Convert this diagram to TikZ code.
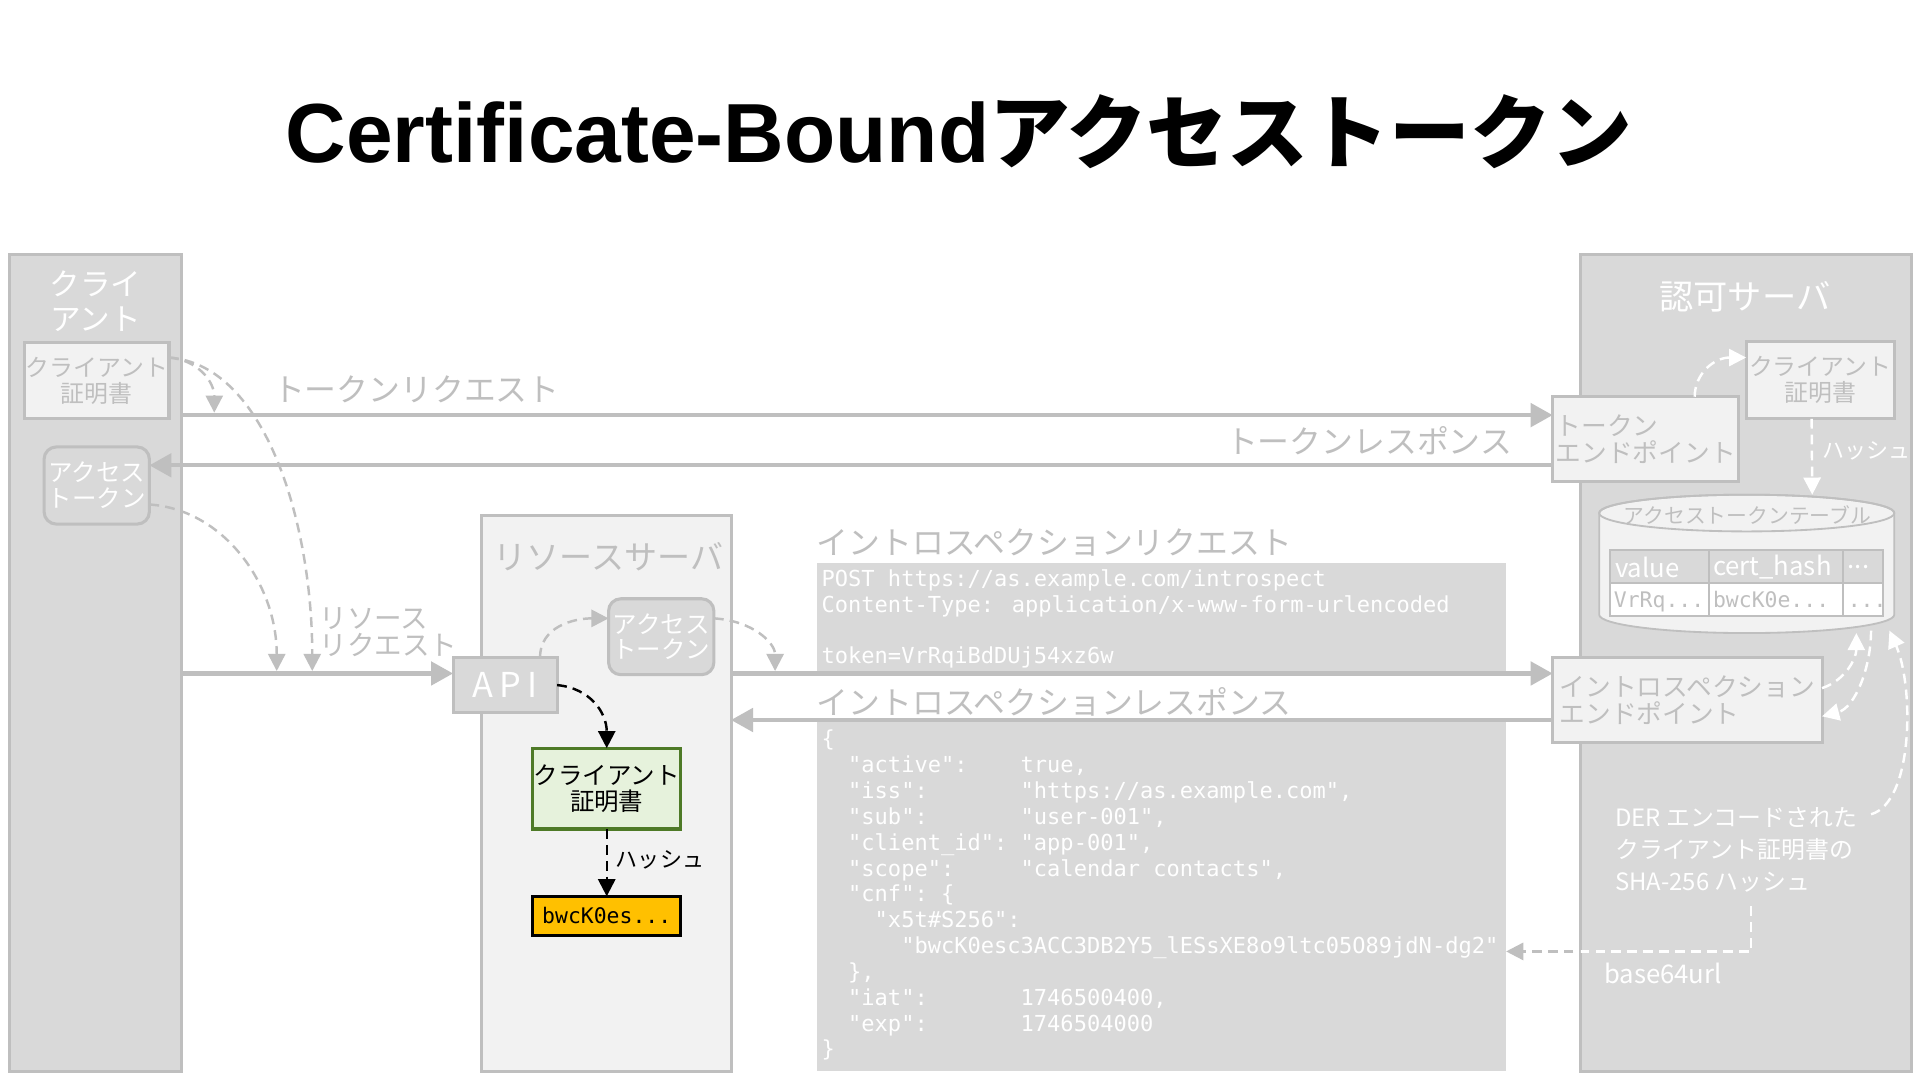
\documentclass[tikz,border=0pt]{standalone}
\usepackage{fontspec}
\setmainfont{Noto Sans CJK JP}
\newfontfamily\codefont{DejaVu Sans Mono}
\newfontfamily\titlelatin{Liberation Sans}
\usetikzlibrary{arrows.meta,calc}
\definecolor{gfill}{HTML}{D9D9D9}
\definecolor{lfill}{HTML}{F2F2F2}
\definecolor{gline}{HTML}{BFBFBF}
\definecolor{grfill}{HTML}{E6F2DC}
\definecolor{grline}{HTML}{4E7A27}
\definecolor{orfill}{HTML}{FFC000}
\newcommand\fsz[2]{\fontsize{#1}{#2}\selectfont}
\newlength\csw
\setlength\csw{10.837pt}
\newcommand\colsp[1]{\hspace*{#1\csw}}
\begin{document}
\begin{tikzpicture}[x=1pt,y=-1pt,
  box/.style={draw=gline, line width=2.5pt, inner sep=0pt, outer sep=0pt},
  txt/.style={inner sep=0pt, outer sep=0pt},
  arr/.style={draw=gline, line width=3.5pt, -{Triangle[length=18pt,width=19pt]}},
  dgray/.style={draw=gline, line width=2pt, dash pattern=on 8pt off 5pt, -{Triangle[length=14pt,width=14pt]}},
  dwhite/.style={draw=white, line width=2pt, dash pattern=on 8pt off 5pt, -{Triangle[length=14pt,width=14pt]}},
  dblack/.style={draw=black, line width=2pt, dash pattern=on 8pt off 5pt, -{Triangle[length=14pt,width=14pt]}},
  code/.style={txt, anchor=base west, text=white, font=\codefont\fsz{18}{21}},
]
\path[use as bounding box, fill=white] (0,0) rectangle (1568,882);

% title
\node[txt, anchor=base] (title) at (783,133) {{\titlelatin\bfseries\fsz{68.5}{72}Certificate-Bound}{\bfseries\fsz{66}{72}アクセストークン}};

% big boxes
\node[box, fill=gfill, minimum width=140pt, minimum height=667pt] (client) at (78,541.5) {};
\node[box, fill=lfill, minimum width=204pt, minimum height=454pt] (RS) at (495,648) {};
\node[box, fill=gfill, minimum width=270pt, minimum height=667pt] (AS) at (1426,541.5) {};

% client content
\node[txt, text=white, align=center, font=\fsz{25}{28}] (clientT) at (78,246) {クライ\\アント};
\node[box, fill=lfill, minimum width=118pt, minimum height=62pt, text=gline, align=center, font=\fsz{19.5}{21}] (ccert) at (79,311) {クライアント\\証明書};
\node[box, fill=gfill, rounded corners=10pt, minimum width=86pt, minimum height=63pt, text=white, align=center, font=\fsz{20}{21}] (ctok) at (79,396.5) {アクセス\\トークン};

% resource server content
\node[txt, text=gline, font=\fsz{27}{28}] (RST) at (497,455) {リソースサーバ};
\node[box, fill=gfill, rounded corners=10pt, minimum width=86pt, minimum height=62pt, text=white, align=center, font=\fsz{20}{21}] (rtok) at (540,520) {アクセス\\トークン};
\node[box, fill=gfill, minimum width=85pt, minimum height=45pt, text=white, font=\fsz{28}{30}] (api) at (412.5,559.5) {A\hspace{5pt}P\hspace{5pt}I};
\node[box, draw=grline, fill=grfill, minimum width=121pt, minimum height=66pt, align=center, font=\fsz{20}{21}] (gcert) at (495.5,644) {クライアント\\証明書};
\node[box, draw=black, fill=orfill, minimum width=121pt, minimum height=32pt, font=\codefont\fsz{17.5}{20}] (hbox) at (495.5,748) {bwcK0es...};
\node[txt, anchor=west, font=\fsz{18}{20}] (hashR) at (503,702) {ハッシュ};

% authorization server content
\node[txt, text=white, font=\fsz{28}{30}] (AST) at (1425,242) {認可サーバ};
\node[box, fill=lfill, minimum width=121pt, minimum height=63pt, text=gline, align=center, font=\fsz{19.5}{21}] (acert) at (1486.5,310.5) {クライアント\\証明書};
\node[box, fill=lfill, minimum width=152pt, minimum height=69pt, text=gline, align=left, font=\fsz{21}{22}] (tep) at (1344,358.5) {トークン\\エンドポイント};
\node[box, fill=lfill, minimum width=220pt, minimum height=69pt, text=gline, align=left, font=\fsz{21}{22}] (iep) at (1378,571.5) {イントロスペクション\\エンドポイント};
\node[txt, anchor=west, text=white, font=\fsz{18}{20}] (hashA) at (1488,368) {ハッシュ};

% cylinder
\path[fill=lfill, draw=gline, line width=1.5pt] (1306,419) -- (1306,502) arc[start angle=180, end angle=360, x radius=120.5pt, y radius=15pt] -- (1547,419) arc[start angle=0, end angle=180, x radius=120.5pt, y radius=15pt] -- cycle;
\draw[gline, line width=1.5pt] (1426.5,419) ellipse[x radius=120.5pt, y radius=15pt];
\coordinate (cyltop) at (1480,404);
\node[txt, text=gline, font=\fsz{17}{18}] (cylT) at (1427,421) {アクセストークンテーブル};
\fill[gfill] (1315,449) rectangle (1538,476);
\fill[white] (1315,476) rectangle (1538,503);
\draw[gline, line width=1.5pt] (1315,449) rectangle (1538,503) (1315,476) -- (1538,476) (1396,449) -- (1396,503) (1505,449) -- (1505,503);
\node[txt, anchor=west, text=white, font=\fsz{21}{22}] (th1) at (1319,463) {value};
\node[txt, anchor=west, text=white, font=\fsz{21}{22}] (th2) at (1399,463) {cert\_hash};
\node[txt, anchor=west, text=white, font=\fsz{21}{22}] (th3) at (1509,463) {...};
\node[txt, anchor=base west, text=gline, font=\codefont\fsz{17.5}{20}] (td1) at (1318,496) {VrRq...};
\node[txt, anchor=base west, text=gline, font=\codefont\fsz{17.5}{20}] (td2) at (1399,496) {bwcK0e...};
\node[txt, anchor=base west, text=gline, font=\codefont\fsz{17.5}{20}] (td3) at (1509,496) {...};

\node[txt, anchor=west, align=left, text=white, font=\fsz{19.5}{26}] (dert) at (1319,694) {DER エンコードされた\\クライアント証明書の\\SHA-256 ハッシュ};
\node[txt, anchor=west, text=white, font=\fsz{21}{22}] (b64) at (1310,795) {base64url};

% code boxes
\node[txt, fill=gfill, minimum width=563pt, minimum height=88pt] (reqbox) at (948.5,504) {};
\node[txt, fill=gfill, minimum width=563pt, minimum height=285pt] (respbox) at (948.5,732.5) {};
\node[code] (q1) at (671,479) {POST https://as.example.com/introspect};
\node[code] (q2) at (671,500) {Content-Type: application/x-www-form-urlencoded};
\node[code] (q3) at (671,542) {token=VrRqiBdDUj54xz6w};
\node[code] (j0) at (671,610) {\{};
\node[code] (j1) at (671,631.1) {\colsp{2}"active":\colsp{4}true,};
\node[code] (j2) at (671,652.2) {\colsp{2}"iss":\colsp{7}"https://as.example.com",};
\node[code] (j3) at (671,673.3) {\colsp{2}"sub":\colsp{7}"user-001",};
\node[code] (j4) at (671,694.4) {\colsp{2}"client\_id":\colsp{1}"app-001",};
\node[code] (j5) at (671,715.5) {\colsp{2}"scope":\colsp{5}"calendar contacts",};
\node[code] (j6) at (671,736.6) {\colsp{2}"cnf":\colsp{1}\{};
\node[code] (j7) at (671,757.7) {\colsp{4}"x5t\#S256":};
\node[code] (j8) at (671,778.8) {\colsp{6}"bwcK0esc3ACC3DB2Y5\_lESsXE8o9ltc05O89jdN-dg2"};
\node[code] (j9) at (671,799.9) {\colsp{2}\},};
\node[code] (j10) at (671,821) {\colsp{2}"iat":\colsp{7}1746500400,};
\node[code] (j11) at (671,842.1) {\colsp{2}"exp":\colsp{7}1746504000};
\node[code] (j12) at (671,863.2) {\}};

% message labels
\node[txt, text=gline, font=\fsz{26}{28}] (lTrq) at (340,318) {トークンリクエスト};
\node[txt, text=gline, font=\fsz{26}{28}] (lTrs) at (1118,360) {トークンレスポンス};
\node[txt, anchor=west, align=left, text=gline, font=\fsz{22.5}{22}] (lRrq) at (261,516) {リソース\\リクエスト};
\node[txt, anchor=west, text=gline, font=\fsz{26}{28}] (lIrq) at (667,443) {イントロスペクションリクエスト};
\node[txt, anchor=west, text=gline, font=\fsz{26}{28}] (lIrs) at (667,573) {イントロスペクションレスポンス};

% solid messages
\coordinate (trq) at (148,339);
\coordinate (trs) at (1268,380);
\coordinate (rrq) at (148,550);
\coordinate (irq) at (597,550);
\coordinate (irs) at (1268,588);
\draw[arr] (trq) -- (tep.west |- trq);
\draw[arr] (trs) -- (ctok.east |- trs);
\draw[arr] (rrq) -- (api.west |- rrq);
\draw[arr] (RS.east |- irq) -- (iep.west |- irq);
\draw[arr] (iep.west |- irs) -- (RS.east |- irs);

% client dashed
\coordinate (c1) at (175,337);
\coordinate (c2) at (255,548);
\coordinate (c3) at (226,548);
\draw[dgray] ([yshift=19pt]ccert.east) .. controls (162,294) and (175,312) .. (c1);
\draw[dgray] ([yshift=19pt]ccert.east) .. controls (218,298) and (255,430) .. (c2);
\draw[dgray] ([yshift=-15.5pt]ctok.east) .. controls (182,416) and (226,476) .. (c3);

% resource server dashed
\coordinate (c5) at (633,548);
\draw[dgray] ([xshift=28.5pt]api.north) .. controls (441,512) and (468,505) .. ([yshift=15pt]rtok.west);
\draw[dgray] ([yshift=15pt]rtok.east) .. controls (615,507) and (633,525) .. (c5);
\draw[dblack] (api.east) .. controls (482,562) and (495.5,582) .. (gcert.north);
\draw[dblack] (gcert.south) -- (hbox.north);

% authorization server dashed
\coordinate (cb1) at (1516,517);
\coordinate (cb2) at (1528,515);
\coordinate (cb3) at (1543,515);
\coordinate (ds) at (1528,665);
\coordinate (hs) at (1430,740);
\coordinate (hc) at (1430,777);
\draw[dwhite] ([xshift=40pt]tep.north) .. controls (1384,305) and (1400,292) .. ([yshift=18.5pt]acert.west);
\draw[dwhite] ([xshift=-7pt]acert.south) -- (cyltop);
\draw[dwhite] ([yshift=9.5pt]iep.east) .. controls (1508,555) and (1516,537) .. (cb1);
\draw[dwhite] (cb2) .. controls (1528,545) and (1515,578) .. ([yshift=-13.5pt]iep.east);
\draw[dwhite] (ds) .. controls (1563,655) and (1563,560) .. (cb3);
\draw[dgray] (hs) -- (hc) -- (respbox.east |- hc);
\begin{scope}
\clip (AS.south west) rectangle (AS.north east);
\draw[dwhite] (hs) -- (hc) -- (respbox.east |- hc);
\end{scope}
\end{tikzpicture}
\end{document}
